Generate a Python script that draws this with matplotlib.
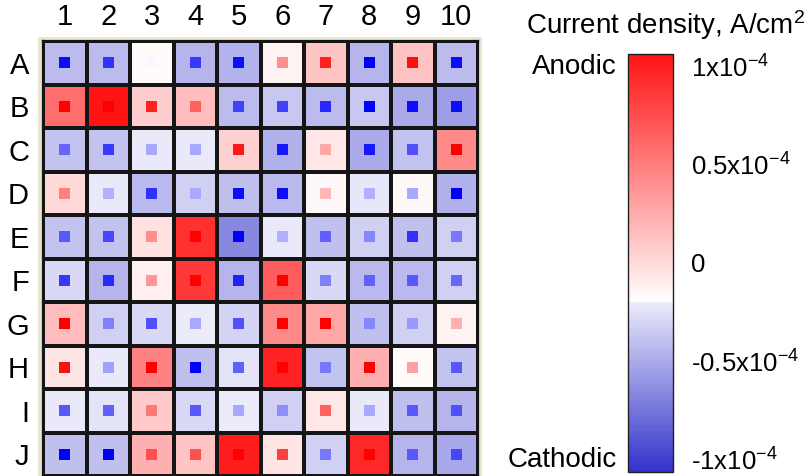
import matplotlib
matplotlib.use('Agg')
import matplotlib.pyplot as plt
import numpy as np
from matplotlib.colors import LinearSegmentedColormap, Normalize
from matplotlib.cm import ScalarMappable
from matplotlib.patches import Rectangle

plt.rcParams['font.family'] = ['Liberation Sans', 'DejaVu Sans']
plt.rcParams['mathtext.fontset'] = 'custom'
plt.rcParams['mathtext.rm'] = 'Liberation Sans'
plt.rcParams['mathtext.default'] = 'regular'

rows = ['A', 'B', 'C', 'D', 'E', 'F', 'G', 'H', 'I', 'J']
cols = ['1', '2', '3', '4', '5', '6', '7', '8', '9', '10']

# well-averaged current density, units of 1e-4 A/cm2
well_density = np.array([
    [-0.43, -0.43, -0.18, -0.45, -0.47, -0.13, 0.11, -0.45, 0.13, -0.43],
    [0.59, 1.06, 0.07, 0.15, -0.43, -0.37, -0.43, -0.37, -0.50, -0.56],
    [-0.39, -0.39, -0.21, -0.21, 0.05, -0.48, -0.07, -0.50, -0.39, 0.43],
    [0.01, -0.21, -0.44, -0.33, -0.40, -0.44, -0.16, -0.22, -0.16, -0.48],
    [-0.39, -0.39, -0.04, 0.91, -0.66, -0.21, -0.40, -0.33, -0.40, -0.33],
    [-0.29, -0.45, -0.11, 0.87, -0.45, 0.67, -0.29, -0.44, -0.44, -0.33],
    [0.15, -0.33, -0.29, -0.20, -0.31, 0.43, 0.27, -0.40, -0.33, -0.13],
    [-0.05, -0.21, 0.47, -0.40, -0.24, 0.99, -0.39, 0.23, -0.18, -0.39],
    [-0.21, -0.24, 0.09, -0.29, -0.20, -0.33, -0.07, -0.21, -0.40, -0.45],
    [-0.40, -0.40, 0.23, 0.11, 1.02, -0.05, -0.33, 0.95, -0.45, -0.52],
])

# local (probe) current density at the well centre, same units
local_density = np.array([
    [-0.95, -0.80, -0.03, -0.78, -0.95, 0.44, 0.87, -1.00, 0.94, -0.95],
    [1.00, 1.00, 0.87, 0.62, -0.75, -0.75, -0.84, -1.00, -0.95, -0.95],
    [-0.60, -0.78, -0.34, -0.34, 0.90, -0.90, 0.34, -0.90, -0.68, 1.00],
    [0.50, -0.31, -0.81, -0.34, -0.95, -0.94, 0.28, -0.31, -0.34, -1.00],
    [-0.65, -0.72, 0.44, 1.00, -1.00, -0.31, -0.62, -0.47, -0.81, -0.53],
    [-0.78, -0.84, 0.40, 1.00, -0.87, 1.00, -0.50, -0.62, -0.65, -0.59],
    [1.00, -0.50, -0.68, -0.34, -0.68, 1.00, 1.00, -0.47, -0.40, 0.31],
    [0.94, -0.37, 1.00, -1.00, -0.62, 1.00, -0.53, 1.00, 0.37, -0.65],
    [-0.65, -0.62, 0.53, -0.65, -0.34, -0.44, 0.62, -0.34, -0.65, -0.68],
    [-1.00, -1.00, 0.68, 0.68, 1.00, 0.75, -0.53, 1.00, -0.65, -0.72],
])

cbar_ticks = [1, 0.5, 0, -0.5, -1]
cbar_ticklabels = ['1x10$^{-4}$', '0.5x10$^{-4}$', '0', '-0.5x10$^{-4}$', '-1x10$^{-4}$']

# colour scale: blue (cathodic) below the white threshold, red above
vmin, vmax = -1.065, 1.065
split = (-0.2 - vmin) / (vmax - vmin)
well_cmap = LinearSegmentedColormap.from_list('well', [
    (0.0, '#3232cc'), (split, '#ececfa'), (split + 0.0005, '#ffffff'), (1.0, '#ff1414')])
well_norm = Normalize(vmin, vmax)
spot_cmap = LinearSegmentedColormap.from_list('spot', ['#0000ff', '#ffffff', '#ff0000'])
spot_norm = Normalize(-1, 1)

fig = plt.figure(figsize=(8.07, 4.76), dpi=100)

# plate frame
frame = fig.add_axes([38/807, 0, 444/807, 439/476])
frame.add_patch(Rectangle((0, 0), 1, 1, color='#e8e5d2', transform=frame.transAxes))
frame.axis('off')

ax = fig.add_axes([43/807, 0, 435/807, 435/476])
ax.pcolormesh(np.arange(11), np.arange(11), well_density, cmap=well_cmap, norm=well_norm,
              edgecolors='#151515', linewidth=1.6)
yy, xx = np.mgrid[0:10, 0:10]
ax.scatter(xx.ravel() + 0.5, yy.ravel() + 0.5, c=local_density.ravel(), cmap=spot_cmap,
           norm=spot_norm, marker='s', s=62, linewidths=0)
ax.set_xlim(0, 10)
ax.set_ylim(10, 0)
ax.set_xticks(np.arange(10) + 0.5, cols)
ax.set_yticks(np.arange(10) + 0.5, rows)
ax.xaxis.tick_top()
ax.tick_params(length=0, labelsize=21, pad=7)
ax.tick_params(axis='y', pad=10)
for s in ax.spines.values():
    s.set_linewidth(1.6)
    s.set_color('#151515')

# colour bar
cax = fig.add_axes([628/807, 4/476, 45/807, 418/476])
cb = fig.colorbar(ScalarMappable(norm=well_norm, cmap=well_cmap), cax=cax)
cb.set_ticks(cbar_ticks, labels=cbar_ticklabels)
cb.ax.tick_params(length=0, labelsize=18.5, pad=13)
cb.outline.set_linewidth(1.0)
cb.outline.set_edgecolor('#202020')

fig.text(805/807, 1 - 25/476, 'Current density, A/cm$^2$', ha='right', va='center', fontsize=20)
fig.text(617/807, 1 - 67/476, 'Anodic', ha='right', va='center', fontsize=20)
fig.text(617/807, 1 - 460/476, 'Cathodic', ha='right', va='center', fontsize=20)

fig.savefig('out.png', dpi=100)
